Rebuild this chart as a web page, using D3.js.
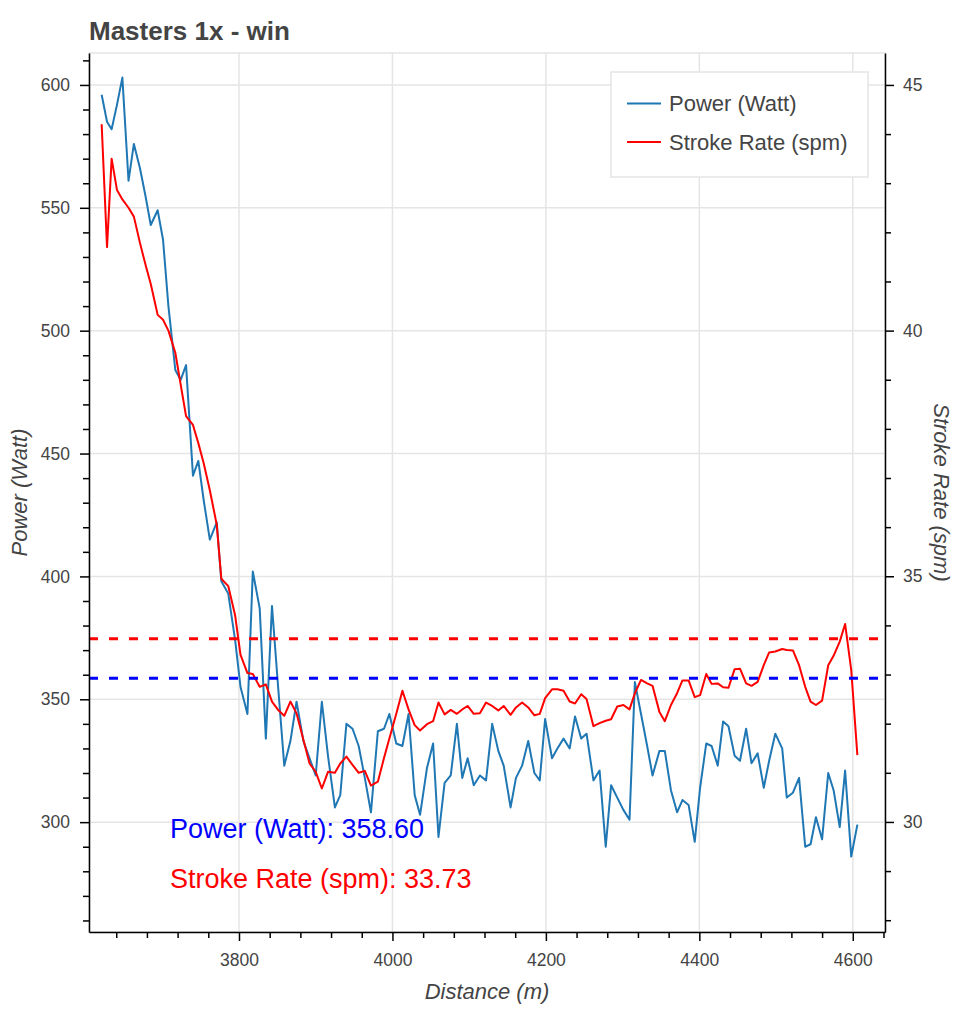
<!DOCTYPE html>
<html>
<head>
<meta charset="utf-8">
<script src="https://cdn.jsdelivr.net/npm/d3@7"></script>
<style>
  html, body { margin: 0; padding: 0; background: #fff; }
  svg { display: block; font-family: "Liberation Sans", Arial, Helvetica, sans-serif; }
</style>
</head>
<body>
<svg id="chart" width="960" height="1010"></svg>
<script>
// ---------------- data ----------------
const title = "Masters 1x - win";
const distance = [3621,3628,3634,3641,3648,3656,3663,3671,3678,3685,3694,3701,3708,3717,3724,3731,3740,3747,3754,3762,3771,3777,3786,3795,3802,3811,3818,3827,3835,3843,3851,3859,3867,3875,3884,3892,3900,3908,3916,3925,3932,3940,3948,3956,3964,3972,3981,3989,3996,4005,4013,4021,4029,4036,4045,4053,4060,4068,4076,4084,4091,4098,4106,4114,4122,4130,4138,4145,4154,4161,4169,4177,4185,4192,4199,4208,4215,4223,4231,4238,4246,4253,4262,4270,4278,4285,4293,4301,4309,4316,4324,4332,4339,4348,4355,4363,4371,4378,4386,4394,4401,4409,4416,4424,4431,4438,4446,4453,4461,4468,4476,4484,4491,4499,4508,4514,4522,4530,4538,4545,4552,4560,4568,4575,4583,4590,4598,4606];
const power = [596,585,582,592,603,561,576,566,555,543,549,537,510,484,480,486,441,447,431,415,422,398,393,374,355,344,402,387,334,388,355,323,333,349,333,326,319,349,327,306,311,340,338,331,318,304,337,338,344,332,331,344,311,303,322,332,294,316,319,340,318,326,315,319,317,340,329,323,306,318,323,333,320,317,342,326,330,334,330,343,334,336,317,321,290,315,310,305,301,357,344,331,319,329,329,313,304,309,307,292,314,332,331,323,341,339,327,325,338,324,328,314,325,336,330,310,312,318,290,291,302,293,320,313,298,321,286,299];
const strokeRate = [44.2,41.7,43.5,42.86,42.67,42.5,42.32,41.78,41.35,40.95,40.32,40.22,40.0,39.55,38.9,38.26,38.08,37.71,37.3,36.75,36.05,34.95,34.8,34.2,33.4,33.03,33.01,32.75,32.8,32.45,32.28,32.16,32.45,32.21,31.67,31.19,31.02,30.68,31.02,31.0,31.19,31.33,31.16,31.0,31.04,30.74,30.82,31.3,31.7,32.2,32.67,32.29,31.97,31.86,31.99,32.05,32.43,32.19,32.28,32.2,32.29,32.36,32.2,32.21,32.43,32.36,32.27,32.36,32.18,32.33,32.43,32.33,32.17,32.2,32.52,32.7,32.7,32.67,32.45,32.41,32.6,32.5,31.95,32.01,32.06,32.09,32.35,32.38,32.29,32.62,32.89,32.82,32.77,32.24,32.05,32.38,32.62,32.88,32.88,32.54,32.58,33.01,32.81,32.82,32.74,32.73,33.11,33.12,32.82,32.77,32.85,33.19,33.45,33.47,33.52,33.5,33.49,33.19,32.75,32.45,32.38,32.47,33.19,33.38,33.67,34.03,33.09,31.36];
const powerMean = 358.60;
const strokeRateMean = 33.73;
const seriesNames = ["Power (Watt)", "Stroke Rate (spm)"];
const xTicks = [3800, 4000, 4200, 4400, 4600];
const xMinorTicks = [3640,3680,3720,3760,3840,3880,3920,3960,4040,4080,4120,4160,4240,4280,4320,4360,4440,4480,4520,4560,4640];
const powerTicks = [300, 350, 400, 450, 500, 550, 600];
const powerMinorTicks = [260,270,280,290,310,320,330,340,360,370,380,390,410,420,430,440,460,470,480,490,510,520,530,540,560,570,580,590,610];
const rateTicks = [30, 35, 40, 45];
const rateMinorTicks = [28,29,31,32,33,34,36,37,38,39,41,42,43,44];
const xLabel = "Distance (m)";
const yLabelLeft = "Power (Watt)";
const yLabelRight = "Stroke Rate (spm)";

// ---------------- layout ----------------
const L = 89, R = 885, T = 53, B = 932;
const svg = d3.select("#chart");
svg.append("rect").attr("width", 960).attr("height", 1010).attr("fill", "#fff");

const x = d3.scaleLinear().domain([3604.5, 4642]).range([L, R]);
const yP = d3.scaleLinear().domain([255.3, 613]).range([B, T]);
const yR = d3.scaleLinear().domain([27.76, 45.65]).range([B, T]);

const textColor = "#444";

// outline
svg.append("rect").attr("x", L).attr("y", T).attr("width", R - L).attr("height", B - T)
  .attr("fill", "none").attr("stroke", "#e5e5e5").attr("stroke-width", 1.5);

// grid
const grid = svg.append("g").attr("stroke", "#e5e5e5").attr("stroke-width", 1.5);
grid.selectAll("line.v").data(xTicks).join("line")
  .attr("x1", d => x(d)).attr("x2", d => x(d)).attr("y1", T).attr("y2", B);
grid.selectAll("line.h").data(powerTicks).join("line")
  .attr("y1", d => yP(d)).attr("y2", d => yP(d)).attr("x1", L).attr("x2", R);

// lines
const clip = svg.append("clipPath").attr("id", "clip").append("rect")
  .attr("x", L).attr("y", T).attr("width", R - L).attr("height", B - T);
const plot = svg.append("g").attr("clip-path", "url(#clip)");

const idx = d3.range(distance.length);
plot.append("path")
  .attr("d", d3.line().x(i => x(distance[i])).y(i => yP(power[i]))(idx))
  .attr("fill", "none").attr("stroke", "#1f77b4").attr("stroke-width", 2).attr("stroke-linejoin", "round");
plot.append("path")
  .attr("d", d3.line().x(i => x(distance[i])).y(i => yR(strokeRate[i]))(idx))
  .attr("fill", "none").attr("stroke", "#ff0000").attr("stroke-width", 2).attr("stroke-linejoin", "round");

// mean dashed lines
plot.append("line").attr("x1", L).attr("x2", R)
  .attr("y1", yR(strokeRateMean)).attr("y2", yR(strokeRateMean))
  .attr("stroke", "#ff0000").attr("stroke-width", 3).attr("stroke-dasharray", "9,11");
plot.append("line").attr("x1", L).attr("x2", R)
  .attr("y1", yP(powerMean)).attr("y2", yP(powerMean))
  .attr("stroke", "#0000ff").attr("stroke-width", 3).attr("stroke-dasharray", "9,11");

// axes
function styleAxis(g) {
  g.selectAll(".domain").attr("stroke", "#000").attr("stroke-width", 1.5);
  g.selectAll(".tick line").attr("stroke", "#000").attr("stroke-width", 1.5);
  g.selectAll(".tick text").attr("fill", textColor).style("font-size", "17.5px")
    .style("font-family", "'Liberation Sans', Arial, sans-serif");
}
// bottom
svg.append("g").attr("transform", `translate(0,${B})`)
  .call(d3.axisBottom(x).tickValues(xMinorTicks).tickSize(6).tickSizeOuter(0).tickFormat(""))
  .call(g => { g.select(".domain").remove(); g.selectAll(".tick line").attr("stroke", "#000").attr("stroke-width", 1.5); });
svg.append("g").attr("transform", `translate(0,${B})`)
  .call(d3.axisBottom(x).tickValues(xTicks).tickSize(9).tickSizeOuter(0).tickPadding(13).tickFormat(d3.format("d")))
  .call(styleAxis);
// left
svg.append("g").attr("transform", `translate(${L},0)`)
  .call(d3.axisLeft(yP).tickValues(powerMinorTicks).tickSize(6).tickSizeOuter(0).tickFormat(""))
  .call(g => { g.select(".domain").remove(); g.selectAll(".tick line").attr("stroke", "#000").attr("stroke-width", 1.5); });
svg.append("g").attr("transform", `translate(${L},0)`)
  .call(d3.axisLeft(yP).tickValues(powerTicks).tickSize(9).tickSizeOuter(0).tickPadding(10).tickFormat(d3.format("d")))
  .call(styleAxis);
// right
svg.append("g").attr("transform", `translate(${R},0)`)
  .call(d3.axisRight(yR).tickValues(rateMinorTicks).tickSize(6).tickSizeOuter(0).tickFormat(""))
  .call(g => { g.select(".domain").remove(); g.selectAll(".tick line").attr("stroke", "#000").attr("stroke-width", 1.5); });
svg.append("g").attr("transform", `translate(${R},0)`)
  .call(d3.axisRight(yR).tickValues(rateTicks).tickSize(9).tickSizeOuter(0).tickPadding(9).tickFormat(d3.format("d")))
  .call(styleAxis);

// axis labels
svg.append("text").attr("x", (L + R) / 2).attr("y", 999).attr("text-anchor", "middle")
  .attr("fill", textColor).style("font-size", "22px").style("font-style", "italic").text(xLabel);
svg.append("text").attr("transform", `translate(19,${(T + B) / 2}) rotate(-90)`)
  .attr("text-anchor", "middle").attr("dominant-baseline", "central")
  .attr("fill", textColor).style("font-size", "22px").style("font-style", "italic").text(yLabelLeft);
svg.append("text").attr("transform", `translate(941,${(T + B) / 2}) rotate(90)`)
  .attr("text-anchor", "middle").attr("dominant-baseline", "central")
  .attr("fill", textColor).style("font-size", "22px").style("font-style", "italic").text(yLabelRight);

// title
svg.append("text").attr("x", L).attr("y", 40).attr("fill", textColor)
  .style("font-size", "26px").style("font-weight", "bold").text(title);

// legend
const lg = svg.append("g");
lg.append("rect").attr("x", 611).attr("y", 72).attr("width", 257).attr("height", 105)
  .attr("fill", "#fff").attr("stroke", "#e5e5e5").attr("stroke-width", 1.5);
const legendColors = ["#1f77b4", "#ff0000"];
const legendY = [103.5, 142];
seriesNames.forEach((name, i) => {
  lg.append("line").attr("x1", 627).attr("x2", 661).attr("y1", legendY[i]).attr("y2", legendY[i])
    .attr("stroke", legendColors[i]).attr("stroke-width", 2);
  lg.append("text").attr("x", 669).attr("y", legendY[i]).attr("dominant-baseline", "central")
    .attr("fill", textColor).style("font-size", "22px").text(name);
});

// mean annotations
svg.append("text").attr("x", 170).attr("y", 838).attr("fill", "#0000ff")
  .style("font-size", "27px").text(`${seriesNames[0]}: ${powerMean.toFixed(2)}`);
svg.append("text").attr("x", 170).attr("y", 888).attr("fill", "#ff0000")
  .style("font-size", "27px").text(`${seriesNames[1]}: ${strokeRateMean.toFixed(2)}`);
</script>
</body>
</html>
